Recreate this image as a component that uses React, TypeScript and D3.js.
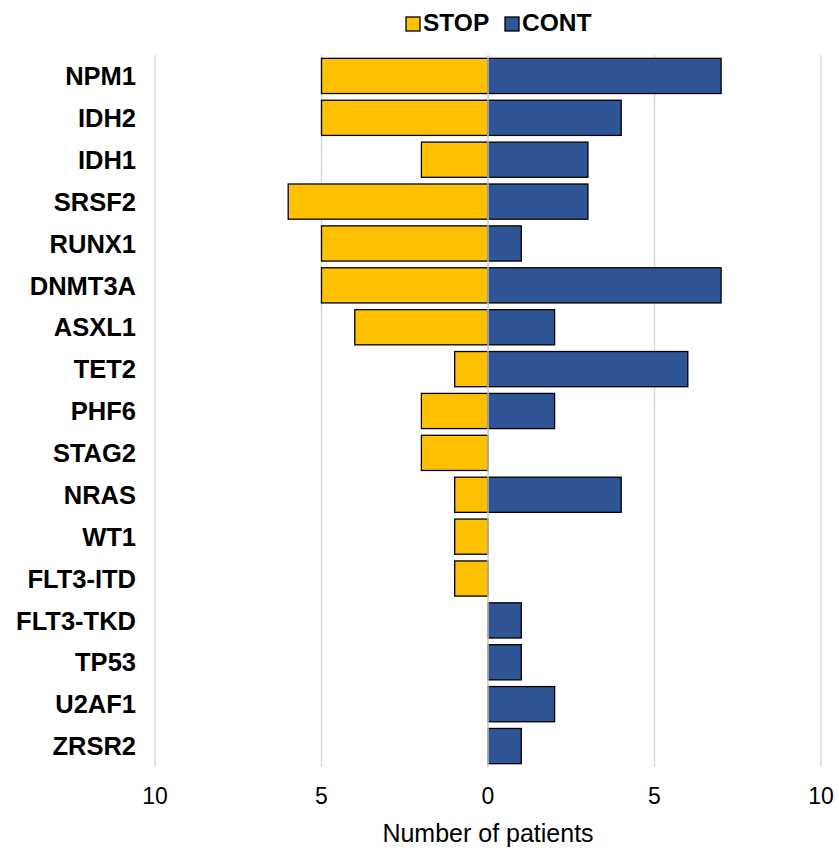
import React from "react";
import * as d3 from "d3";

const genes = ["NPM1", "IDH2", "IDH1", "SRSF2", "RUNX1", "DNMT3A", "ASXL1", "TET2", "PHF6", "STAG2", "NRAS", "WT1", "FLT3-ITD", "FLT3-TKD", "TP53", "U2AF1", "ZRSR2"];
const stopCounts = [5, 5, 2, 6, 5, 5, 4, 1, 2, 2, 1, 1, 1, 0, 0, 0, 0];
const contCounts = [7, 4, 3, 3, 1, 7, 2, 6, 2, 0, 4, 0, 0, 1, 1, 2, 1];
const tickValues = [-10, -5, 0, 5, 10];
const seriesNames = ["STOP", "CONT"];

const W = 839;
const H = 853;
const STOP_COLOR = "#FFC000";
const CONT_COLOR = "#2F5597";
const FONT = "'Liberation Sans', Arial, Helvetica, sans-serif";

export default function App() {
  const x = d3.scaleLinear().domain([-10, 10]).range([155, 821]);
  const y = d3.scaleBand<string>().domain(genes).range([55, 767]).paddingInner(0.16).paddingOuter(0.08);
  const bw = y.bandwidth();

  return (
    <svg width={W} height={H} style={{ position: "absolute", left: 0, top: 0, background: "#fff" }} fontFamily={FONT}>
      {/* grid */}
      {tickValues.filter((t) => t !== 0).map((t) => (
        <line key={t} x1={x(t)} x2={x(t)} y1={55} y2={767} stroke="#d9d9d9" strokeWidth={1.5} />
      ))}
      {/* bars */}
      {genes.map((g, i) => (
        <g key={g}>
          {stopCounts[i] > 0 && (
            <rect x={x(-stopCounts[i])} y={y(g)} width={x(0) - x(-stopCounts[i])} height={bw} fill={STOP_COLOR} stroke="#000" strokeWidth={1.3} />
          )}
          {contCounts[i] > 0 && (
            <rect x={x(0)} y={y(g)} width={x(contCounts[i]) - x(0)} height={bw} fill={CONT_COLOR} stroke="#000" strokeWidth={1.3} />
          )}
        </g>
      ))}
      {/* zero axis */}
      <line x1={x(0)} x2={x(0)} y1={55} y2={767} stroke="#c8c8c8" strokeWidth={1.5} />
      {/* category labels */}
      {genes.map((g) => (
        <text key={g} x={136} y={(y(g) as number) + bw / 2} dy="0.36em" textAnchor="end" fontSize={25.5} fontWeight="bold" fill="#000">
          {g}
        </text>
      ))}
      {/* x ticks */}
      {tickValues.map((t) => (
        <text key={t} x={x(t)} y={804} textAnchor="middle" fontSize={23} fill="#000">
          {Math.abs(t)}
        </text>
      ))}
      <text x={x(0)} y={842} textAnchor="middle" fontSize={25} fill="#000">
        Number of patients
      </text>
      {/* legend */}
      <g>
        <rect x={406} y={17} width={14} height={14} fill={STOP_COLOR} stroke="#000" strokeWidth={1.3} />
        <text x={423} y={31} fontSize={24.5} fontWeight="bold" fill="#000">{seriesNames[0]}</text>
        <rect x={505} y={17} width={14} height={14} fill={CONT_COLOR} stroke="#000" strokeWidth={1.3} />
        <text x={522} y={31} fontSize={24.5} fontWeight="bold" fill="#000">{seriesNames[1]}</text>
      </g>
    </svg>
  );
}
